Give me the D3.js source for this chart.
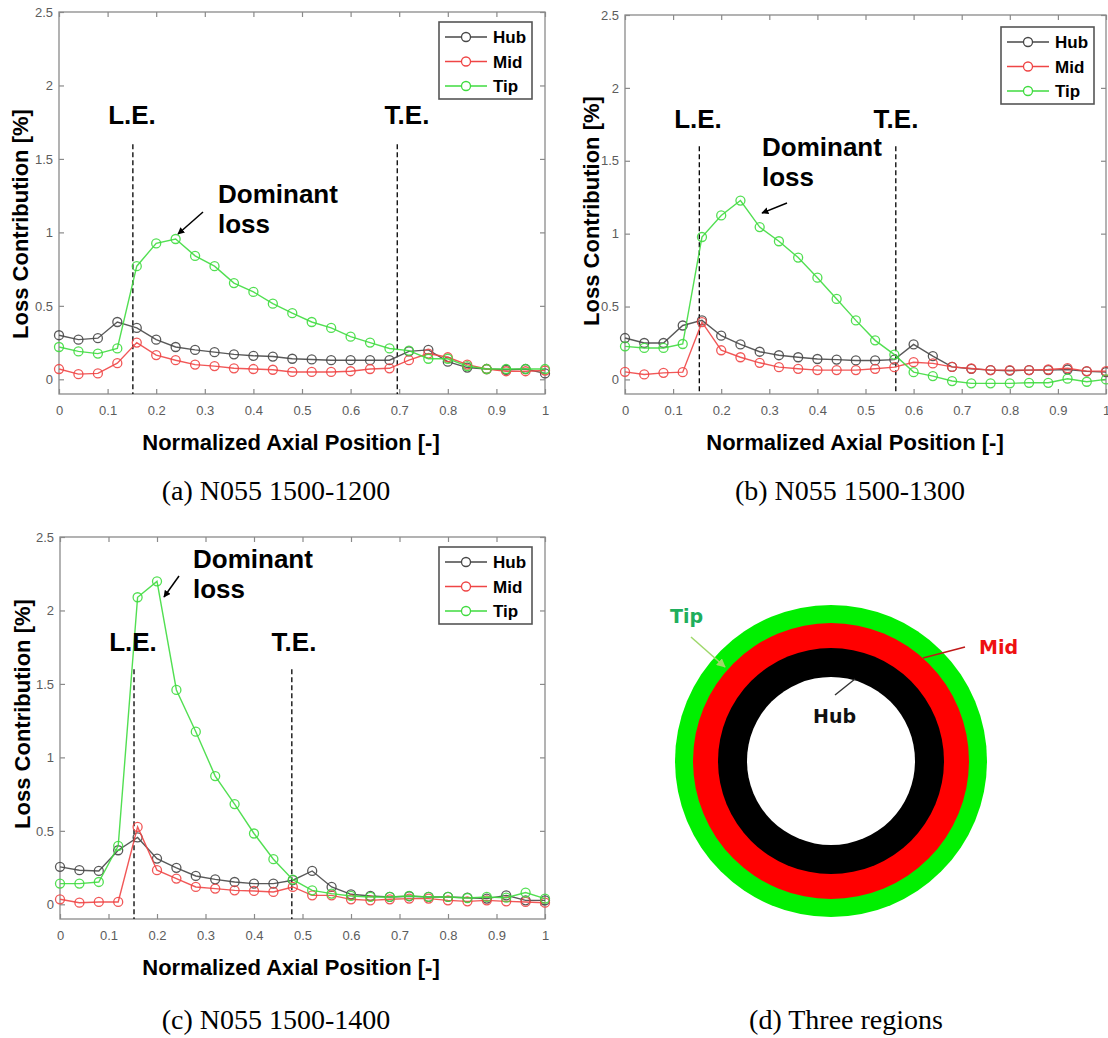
<!DOCTYPE html>
<html>
<head>
<meta charset="utf-8">
<script src="https://cdn.jsdelivr.net/npm/d3@7"></script>
<style>
  body { margin: 0; background: #fff; }
  svg { display: block; }
</style>
</head>
<body>
<svg id="fig" width="1108" height="1038"></svg>
<script>
// axial stations (normalized)
const axialPos = [0, 0.04, 0.08, 0.12, 0.16, 0.20, 0.24, 0.28, 0.32, 0.36, 0.40, 0.44, 0.48,
    0.52, 0.56, 0.60, 0.64, 0.68, 0.72, 0.76, 0.80, 0.84, 0.88, 0.92, 0.96, 1.00];

// (a) N055 1500-1200
const hubA = [0.30, 0.27, 0.28, 0.39, 0.35, 0.27, 0.22, 0.20, 0.185, 0.17, 0.16, 0.155, 0.14,
    0.135, 0.13, 0.13, 0.13, 0.13, 0.19, 0.20, 0.12, 0.08, 0.07, 0.065, 0.07, 0.04];
const midA = [0.07, 0.035, 0.04, 0.11, 0.25, 0.165, 0.13, 0.10, 0.09, 0.075, 0.07, 0.065, 0.05,
    0.05, 0.05, 0.055, 0.07, 0.075, 0.13, 0.175, 0.15, 0.10, 0.07, 0.055, 0.055, 0.06];
const tipA = [0.22, 0.19, 0.175, 0.21, 0.77, 0.925, 0.955, 0.84, 0.77, 0.655, 0.595, 0.515, 0.45,
    0.39, 0.35, 0.29, 0.25, 0.21, 0.195, 0.14, 0.14, 0.09, 0.07, 0.07, 0.07, 0.07];

// (b) N055 1500-1300
const hubB = [0.284, 0.25, 0.25, 0.37, 0.405, 0.30, 0.24, 0.19, 0.166, 0.152, 0.14, 0.136, 0.13,
    0.13, 0.136, 0.24, 0.16, 0.086, 0.073, 0.064, 0.06, 0.064, 0.064, 0.068, 0.055, 0.05];
const midB = [0.052, 0.034, 0.045, 0.05, 0.393, 0.20, 0.152, 0.114, 0.084, 0.073, 0.064, 0.064, 0.064,
    0.073, 0.084, 0.118, 0.11, 0.086, 0.075, 0.064, 0.064, 0.064, 0.068, 0.077, 0.057, 0.057];
const tipB = [0.227, 0.216, 0.216, 0.243, 0.977, 1.125, 1.227, 1.045, 0.948, 0.836, 0.698, 0.552, 0.405,
    0.268, 0.17, 0.05, 0.023, -0.011, -0.027, -0.027, -0.027, -0.023, -0.023, 0.005, -0.016, 0.0];

// (c) N055 1500-1400
const hubC = [0.255, 0.232, 0.227, 0.368, 0.455, 0.311, 0.248, 0.193, 0.17, 0.152, 0.141, 0.141, 0.164,
    0.227, 0.118, 0.068, 0.057, 0.05, 0.055, 0.05, 0.05, 0.045, 0.039, 0.061, 0.027, 0.027];
const midC = [0.034, 0.011, 0.016, 0.016, 0.527, 0.232, 0.175, 0.118, 0.107, 0.095, 0.091, 0.084, 0.118,
    0.061, 0.061, 0.034, 0.027, 0.034, 0.039, 0.039, 0.027, 0.02, 0.027, 0.02, 0.016, 0.011];
const tipC = [0.141, 0.141, 0.152, 0.398, 2.09, 2.198, 1.459, 1.175, 0.873, 0.682, 0.482, 0.307, 0.168,
    0.095, 0.073, 0.057, 0.05, 0.05, 0.057, 0.05, 0.05, 0.043, 0.05, 0.045, 0.08, 0.039];

// leading / trailing edge stations
const edgesA = [0.152, 0.696];
const edgesB = [0.1545, 0.563];
const edgesC = [0.1526, 0.478];

const seriesNames = ['Hub', 'Mid', 'Tip'];
const xTicks = [0, 0.1, 0.2, 0.3, 0.4, 0.5, 0.6, 0.7, 0.8, 0.9, 1];
const yTicks = [0, 0.5, 1, 1.5, 2, 2.5];
const captions = ['(a) N055 1500-1200', '(b) N055 1500-1300', '(c) N055 1500-1400', '(d) Three regions'];
const regionNames = ['Tip', 'Mid', 'Hub'];

const colorScale = d3.scaleOrdinal()
    .domain(seriesNames)
    .range(['#474747', '#ef4545', '#3fdb3f']);

const svg = d3.select('#fig');
svg.append('rect').attr('width', 1108).attr('height', 1038).attr('fill', '#fff');

const defs = svg.append('defs');
defs.append('marker')
    .attr('id', 'arrowBlack')
    .attr('viewBox', '0 0 10 10')
    .attr('refX', 9).attr('refY', 5)
    .attr('markerWidth', 7).attr('markerHeight', 7)
    .attr('markerUnits', 'userSpaceOnUse')
    .attr('orient', 'auto')
    .append('path').attr('d', 'M0,0 L10,5 L0,10 z').attr('fill', '#000');
defs.append('marker')
    .attr('id', 'arrowGreen')
    .attr('viewBox', '0 0 10 10')
    .attr('refX', 9).attr('refY', 5)
    .attr('markerWidth', 9).attr('markerHeight', 9)
    .attr('markerUnits', 'userSpaceOnUse')
    .attr('orient', 'auto')
    .append('path').attr('d', 'M0,0 L10,5 L0,10 z').attr('fill', '#9ed86a');

const panels = [
    { hub: hubA, mid: midA, tip: tipA, edges: edgesA,
      left: 59, right: 545, top: 12, bottom: 394,
      leLabel: [132, 124], teLabel: [407, 124],
      domLabel: [218, 203], arrow: [[203, 212], [178, 234]],
      legend: [439, 22], xLabelX: 291, yLabel: [20, 224],
      caption: [276, 500] },
    { hub: hubB, mid: midB, tip: tipB, edges: edgesB,
      left: 625, right: 1106, top: 15, bottom: 394,
      leLabel: [698, 128], teLabel: [896, 128],
      domLabel: [762, 156], arrow: [[787, 203], [762, 213]],
      legend: [1001, 27], xLabelX: 855, yLabel: [591, 211],
      caption: [850, 500] },
    { hub: hubC, mid: midC, tip: tipC, edges: edgesC,
      left: 60, right: 545, top: 537, bottom: 919,
      leLabel: [133, 651], teLabel: [294, 651],
      domLabel: [193, 568], arrow: [[179, 576], [164, 597]],
      legend: [439, 547], xLabelX: 291, yLabel: [22, 714],
      caption: [276, 1029] }
];

panels.forEach(drawPanel);

function drawPanel(p, idx) {
    const x = d3.scaleLinear().domain([0, 1]).range([p.left, p.right]);
    const y = d3.scaleLinear().domain([-0.1, 2.5]).range([p.bottom, p.top]);
    const g = svg.append('g');

    // axes (MATLAB style: box with inward ticks on all sides)
    const axisStyle = sel => {
        sel.select('.domain').remove();
        sel.selectAll('.tick line').attr('stroke', '#8a8a8a').attr('stroke-width', 1.2);
        sel.selectAll('.tick text')
            .attr('fill', '#5c5c5c')
            .style('font-family', 'Liberation Sans, Arial, sans-serif')
            .style('font-size', '13px');
    };
    g.append('g').attr('transform', 'translate(0,' + p.bottom + ')')
        .call(d3.axisBottom(x).tickValues(xTicks).tickSize(-5).tickSizeOuter(0)
            .tickPadding(12).tickFormat(d3.format('~g')))
        .call(axisStyle);
    g.append('g').attr('transform', 'translate(0,' + p.top + ')')
        .call(d3.axisTop(x).tickValues(xTicks).tickSize(-5).tickSizeOuter(0).tickFormat(''))
        .call(axisStyle);
    g.append('g').attr('transform', 'translate(' + p.left + ',0)')
        .call(d3.axisLeft(y).tickValues(yTicks).tickSize(-5).tickSizeOuter(0)
            .tickPadding(6).tickFormat(d3.format('~g')))
        .call(axisStyle);
    g.append('g').attr('transform', 'translate(' + p.right + ',0)')
        .call(d3.axisRight(y).tickValues(yTicks).tickSize(-5).tickSizeOuter(0).tickFormat(''))
        .call(axisStyle);

    g.append('rect')
        .attr('x', p.left).attr('y', p.top)
        .attr('width', p.right - p.left).attr('height', p.bottom - p.top)
        .attr('fill', 'none').attr('stroke', '#8a8a8a').attr('stroke-width', 1.3);

    // L.E. / T.E. dashed markers
    g.selectAll('.edge')
        .data(p.edges)
        .enter()
        .append('line')
        .attr('x1', d => x(d)).attr('x2', d => x(d))
        .attr('y1', y(1.6)).attr('y2', y(-0.1))
        .attr('stroke', '#000').attr('stroke-width', 1.3)
        .attr('stroke-dasharray', '5,3');

    // series
    const line = d3.line()
        .x((d, i) => x(axialPos[i]))
        .y(d => y(d));
    const series = [
        { name: 'Hub', values: p.hub },
        { name: 'Mid', values: p.mid },
        { name: 'Tip', values: p.tip }
    ];
    series.forEach(s => {
        g.append('path')
            .datum(s.values)
            .attr('d', line)
            .attr('fill', 'none')
            .attr('stroke', colorScale(s.name))
            .attr('stroke-width', 1.4)
            .attr('stroke-opacity', 0.9);
        g.append('g').selectAll('circle')
            .data(s.values)
            .enter()
            .append('circle')
            .attr('cx', (d, i) => x(axialPos[i]))
            .attr('cy', d => y(d))
            .attr('r', 4.5)
            .attr('fill', 'none')
            .attr('stroke', colorScale(s.name))
            .attr('stroke-width', 1.3)
            .attr('stroke-opacity', 0.9);
    });

    // annotations
    const bold = 'Liberation Sans, Arial, sans-serif';
    g.append('text').text('L.E.')
        .attr('x', p.leLabel[0]).attr('y', p.leLabel[1])
        .attr('text-anchor', 'middle')
        .style('font-family', bold).style('font-weight', 'bold').style('font-size', '26px');
    g.append('text').text('T.E.')
        .attr('x', p.teLabel[0]).attr('y', p.teLabel[1])
        .attr('text-anchor', 'middle')
        .style('font-family', bold).style('font-weight', 'bold').style('font-size', '26px');
    const dom = g.append('text')
        .attr('x', p.domLabel[0]).attr('y', p.domLabel[1])
        .style('font-family', bold).style('font-weight', 'bold').style('font-size', '26px');
    dom.append('tspan').text('Dominant');
    dom.append('tspan').text('loss').attr('x', p.domLabel[0]).attr('dy', 30);
    g.append('line')
        .attr('x1', p.arrow[0][0]).attr('y1', p.arrow[0][1])
        .attr('x2', p.arrow[1][0]).attr('y2', p.arrow[1][1])
        .attr('stroke', '#000').attr('stroke-width', 1.5)
        .attr('marker-end', 'url(#arrowBlack)');

    // legend
    const lg = g.append('g').attr('transform', 'translate(' + p.legend[0] + ',' + p.legend[1] + ')');
    lg.append('rect')
        .attr('width', 93).attr('height', 77)
        .attr('fill', '#fff').attr('stroke', '#555').attr('stroke-width', 1.6);
    const entries = lg.selectAll('.entry')
        .data(seriesNames)
        .enter()
        .append('g')
        .attr('transform', (d, i) => 'translate(0,' + (15 + i * 24.5) + ')');
    entries.append('line')
        .attr('x1', 6).attr('x2', 48)
        .attr('stroke', d => colorScale(d)).attr('stroke-width', 1.4);
    entries.append('circle')
        .attr('cx', 27).attr('r', 4.5)
        .attr('fill', '#fff')
        .attr('stroke', d => colorScale(d)).attr('stroke-width', 1.3);
    entries.append('text').text(d => d)
        .attr('x', 54).attr('y', 6)
        .style('font-family', bold).style('font-weight', 'bold').style('font-size', '17px');

    // axis titles
    g.append('text').text('Normalized Axial Position [-]')
        .attr('x', p.xLabelX).attr('y', p.bottom + 56)
        .attr('text-anchor', 'middle')
        .style('font-family', bold).style('font-weight', 'bold').style('font-size', '22px');
    g.append('text').text('Loss Contribution [%]')
        .attr('transform', 'translate(' + (p.yLabel[0] + 8) + ',' + p.yLabel[1] + ') rotate(-90)')
        .attr('text-anchor', 'middle')
        .style('font-family', bold).style('font-weight', 'bold').style('font-size', '22px');

    // caption
    svg.append('text').text(captions[idx])
        .attr('x', p.caption[0]).attr('y', p.caption[1])
        .attr('text-anchor', 'middle')
        .style('font-family', 'Liberation Serif, Times New Roman, serif')
        .style('font-size', '28px');
}

// (d) three regions
const ringCx = 831, ringCy = 761;
const ringRadius = d3.scaleOrdinal()
    .domain(['Tip', 'Mid', 'Hub', 'core'])
    .range([156, 138, 113, 84]);
const ringFill = d3.scaleOrdinal()
    .domain(['Tip', 'Mid', 'Hub', 'core'])
    .range(['#00f000', '#ff0000', '#000000', '#ffffff']);
svg.append('g').selectAll('circle')
    .data(regionNames.concat(['core']))
    .enter()
    .append('circle')
    .attr('cx', ringCx).attr('cy', ringCy)
    .attr('r', d => ringRadius(d))
    .attr('fill', d => ringFill(d));

const tahoma = 'DejaVu Sans, Verdana, sans-serif';
svg.append('text').text('Tip')
    .attr('x', 670).attr('y', 623)
    .attr('fill', '#1fae5c')
    .style('font-family', tahoma).style('font-weight', 'bold').style('font-size', '19px');
svg.append('line')
    .attr('x1', 691).attr('y1', 637).attr('x2', 725).attr('y2', 667)
    .attr('stroke', '#9ed86a').attr('stroke-width', 1.5)
    .attr('marker-end', 'url(#arrowGreen)');
svg.append('text').text('Mid')
    .attr('x', 979).attr('y', 654)
    .attr('fill', '#ee1111')
    .style('font-family', tahoma).style('font-weight', 'bold').style('font-size', '19px');
svg.append('line')
    .attr('x1', 965).attr('y1', 647).attr('x2', 923).attr('y2', 658)
    .attr('stroke', '#c01818').attr('stroke-width', 1.5);
svg.append('text').text('Hub')
    .attr('x', 813).attr('y', 723)
    .attr('fill', '#111')
    .style('font-family', tahoma).style('font-weight', 'bold').style('font-size', '19px');
svg.append('line')
    .attr('x1', 835).attr('y1', 695).attr('x2', 855).attr('y2', 679)
    .attr('stroke', '#333').attr('stroke-width', 1.5);

svg.append('text').text(captions[3])
    .attr('x', 846).attr('y', 1029)
    .attr('text-anchor', 'middle')
    .style('font-family', 'Liberation Serif, Times New Roman, serif')
    .style('font-size', '28px');
</script>
</body>
</html>
